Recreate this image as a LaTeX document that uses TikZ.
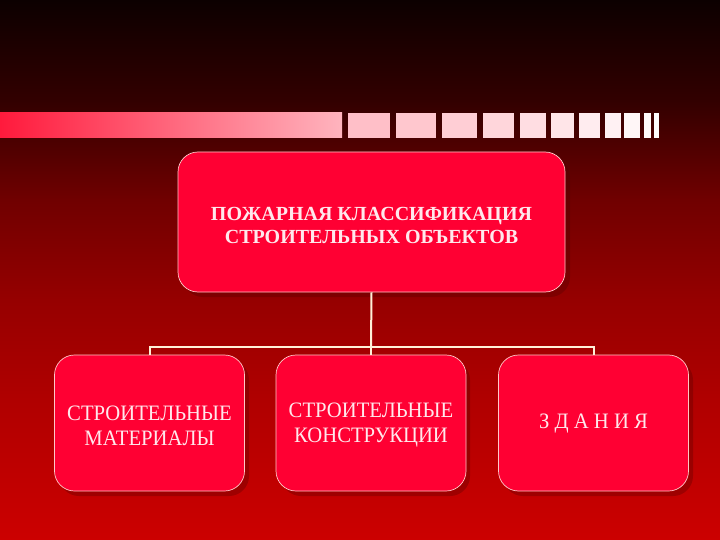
\documentclass[tikz,border=0pt]{standalone}
\usepackage{fontspec}
\setmainfont{Liberation Serif}
\newfontfamily\condserif[FakeStretch=0.94]{Liberation Serif}
\definecolor{boxred}{HTML}{FF0033}
\definecolor{edgepink}{HTML}{FFC8C8}
\definecolor{linecream}{HTML}{FFF0D8}
\definecolor{stripA}{HTML}{FF1A3C}
\definecolor{stripB}{HTML}{FFB4BE}
\definecolor{txt}{HTML}{FFE8EC}
\definecolor{bg0}{HTML}{0C0000}
\definecolor{bg1}{HTML}{320000}
\definecolor{bg2}{HTML}{700000}
\definecolor{bg3}{HTML}{960000}
\definecolor{bg4}{HTML}{B00000}
\definecolor{bg5}{HTML}{CC0000}
\pgfdeclareverticalshading{bgshade}{100bp}{color(0bp)=(bg5); color(25bp)=(bg5); color(38bp)=(bg4); color(47.2bp)=(bg3); color(56.5bp)=(bg2); color(65.7bp)=(bg1); color(75bp)=(bg0); color(100bp)=(bg0)}
\tikzset{
  mainbox/.style={draw=edgepink, line width=0.7pt, fill=boxred, rounded corners=20pt, minimum width=387pt, minimum height=140pt},
  subbox/.style={draw=edgepink, line width=0.7pt, fill=boxred, rounded corners=20pt, minimum width=190pt, minimum height=136pt},
  maintext/.style={align=center, text=txt, font=\fontsize{20}{23}\selectfont\bfseries},
  subtext/.style={align=center, text=txt, font=\condserif\fontsize{22}{25}\selectfont},
  shadowbox/.style={fill=black!70!red, opacity=0.3, rounded corners=20pt},
  conn/.style={draw=linecream, line width=2pt}
}
\begin{document}
\begin{tikzpicture}[x=1pt,y=-1pt]
\useasboundingbox (0,0) rectangle (720,540);
\shade[shading=bgshade] (0,0) rectangle (720,540);
% strip
\shade[left color=stripA, right color=stripB] (0,113) rectangle (342,138);
\foreach \a/\b/\c in {348/390/15,396/436/25,442/477/35,483/514/45,520/546/55,551/574/65,579/600/75,605/621/82,624/640/88,644/651/93,654/659/98}{
  \fill[white!\c!stripB] (\a,113) rectangle (\b,138);
}
% shadows
\fill[shadowbox] (183,157) rectangle (570,297);
\fill[shadowbox] (59,360) rectangle (249,496);
\fill[shadowbox] (281,360) rectangle (470,496);
\fill[shadowbox] (503,360) rectangle (693,496);
\node[mainbox] (top) at (371.5,222) {};
\node[subbox] (m) at (149.5,423) {};
\node[subbox] (k) at (371,423) {};
\node[subbox] (z) at (593.5,423) {};
\node[maintext] (topt) at (371.5,225) {ПОЖАРНАЯ КЛАССИФИКАЦИЯ\\ СТРОИТЕЛЬНЫХ ОБЪЕКТОВ};
\node[subtext] (mt) at (149.5,425.5) {СТРОИТЕЛЬНЫЕ\\МАТЕРИАЛЫ};
\node[subtext] (kt) at (371,425.5) {СТРОИТЕЛЬНЫЕ\\КОНСТРУКЦИИ};
\node[subtext] (zt) at (593.5,424) {З Д А Н И Я};
\coordinate (j) at (371,347);
\draw[conn] (top.south) -- (j);
\draw[conn] (m.north) -- (m.north |- j) -- (z.north |- j) -- (z.north);
\draw[conn] (j) -- (k.north);
\end{tikzpicture}
\end{document}
